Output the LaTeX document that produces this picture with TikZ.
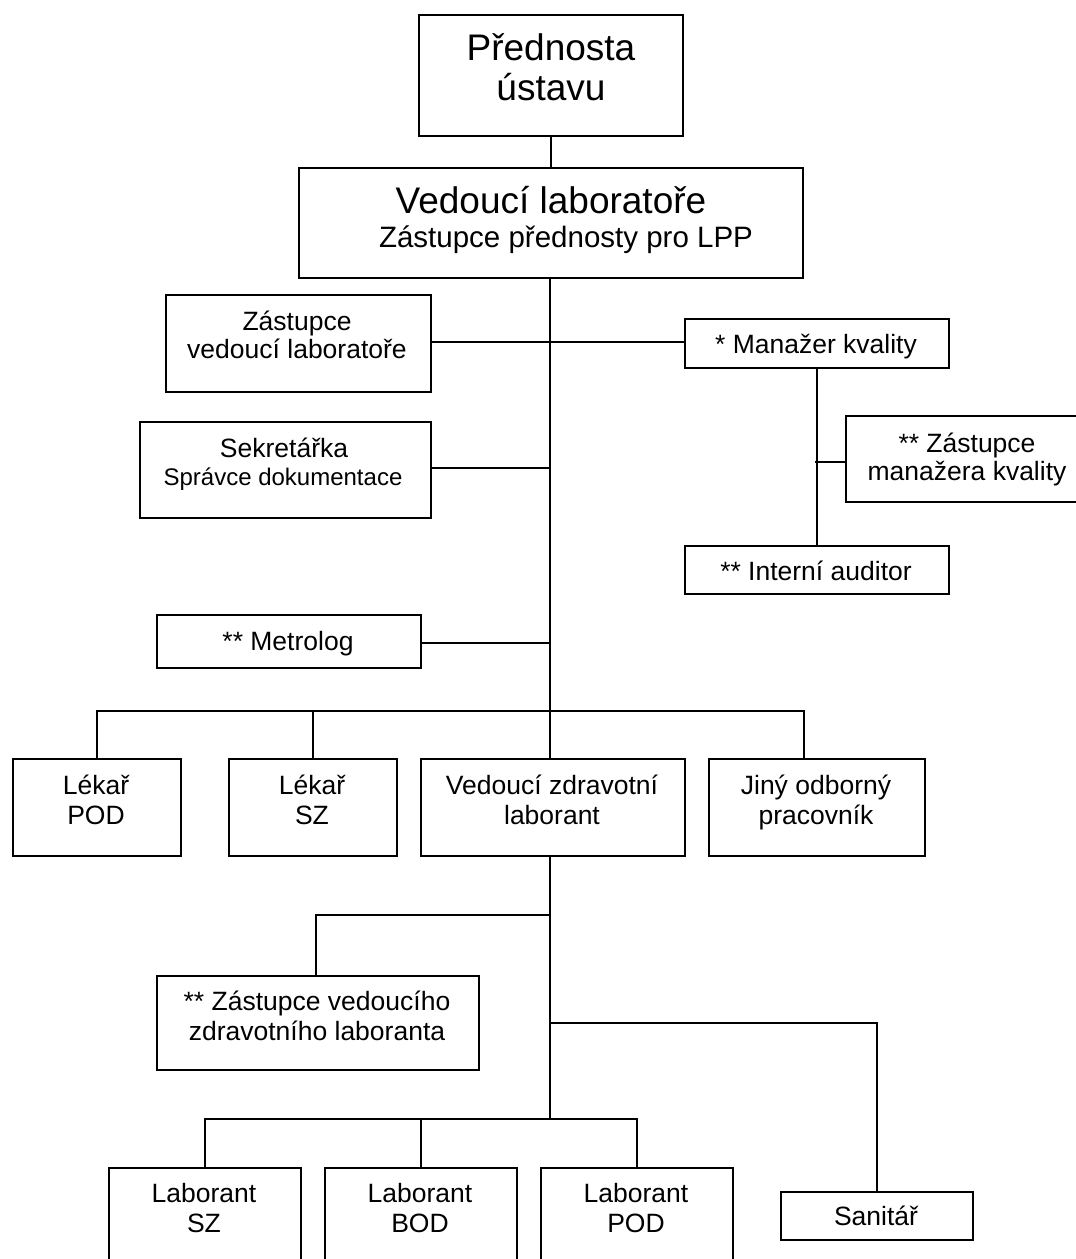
\documentclass[tikz,border=0pt]{standalone}
\usepackage{fontspec}
\setmainfont{Liberation Sans}
\begin{document}
\begin{tikzpicture}[x=1pt,y=-1pt,
  box/.style={draw=black,line width=1.8pt,rectangle,inner sep=0pt,anchor=north west},
  txt/.style={anchor=base,align=center,inner sep=0pt,font=\fontsize{26.5}{30}\selectfont},
  big/.style={anchor=base,align=center,inner sep=0pt,font=\fontsize{37}{40}\selectfont},
  conn/.style={line width=1.8pt,line cap=rect}]
\useasboundingbox (0,0) rectangle (1076,1259);
\clip (0,0) rectangle (1076,1259);
\fill[white] (0,0) rectangle (1076,1259);
% boxes
\node[box,minimum width=264pt,minimum height=121pt] (pred) at (418,14) {};
\node[box,minimum width=504pt,minimum height=110pt] (vedl) at (298,167) {};
\node[box,minimum width=265pt,minimum height=97pt] (zvl) at (165,294) {};
\node[box,minimum width=264pt,minimum height=49pt] (mk) at (684,318) {};
\node[box,minimum width=291pt,minimum height=96pt] (sek) at (139,421) {};
\node[box,minimum width=250pt,minimum height=86pt] (zmk) at (845,415) {};
\node[box,minimum width=264pt,minimum height=48pt] (ia) at (684,545) {};
\node[box,minimum width=264pt,minimum height=53pt] (met) at (156,614) {};
\node[box,minimum width=168pt,minimum height=97pt] (lpod) at (12,758) {};
\node[box,minimum width=168pt,minimum height=97pt] (lsz) at (228,758) {};
\node[box,minimum width=264pt,minimum height=97pt] (vzl) at (420,758) {};
\node[box,minimum width=216pt,minimum height=97pt] (jiny) at (708,758) {};
\node[box,minimum width=322pt,minimum height=94pt] (zvzl) at (156,975) {};
\node[box,minimum width=192pt,minimum height=48pt] (san) at (780,1191) {};
\node[box,minimum width=192pt,minimum height=120pt] (labsz) at (108,1167) {};
\node[box,minimum width=192pt,minimum height=120pt] (labbod) at (324,1167) {};
\node[box,minimum width=192pt,minimum height=120pt] (labpod) at (540,1167) {};
% texts (anchor base = baseline of the last line)
\node[big] (pred-t) at (551,100) {Přednosta\\ústavu};
\node[big] (vedl-t) at (551,213) {Vedoucí laboratoře};
\node[anchor=base,inner sep=0pt,font=\fontsize{29.5}{33}\selectfont] (vedl-t2) at (566,247) {Zástupce přednosty pro LPP};
\node[txt] (zvl-t) at (297,358) {Zástupce\\[-2pt]vedoucí laboratoře};
\node[txt] (mk-t) at (816,353) {* Manažer kvality};
\node[txt] (sek-t) at (284,457) {Sekretářka};
\node[anchor=base,inner sep=0pt,font=\fontsize{24}{28}\selectfont] (sek-t2) at (283,485) {Správce dokumentace};
\node[txt] (zmk-t) at (967,480) {** Zástupce\\[-2pt]manažera kvality};
\node[txt] (ia-t) at (816,580) {** Interní auditor};
\node[txt] (met-t) at (288,650) {** Metrolog};
\node[txt] (lpod-t) at (96,824) {Lékař\\POD};
\node[txt] (lsz-t) at (312,824) {Lékař\\SZ};
\node[txt] (vzl-t) at (552,824) {Vedoucí zdravotní\\laborant};
\node[txt] (jiny-t) at (816,824) {Jiný odborný\\pracovník};
\node[txt] (zvzl-t) at (317,1040) {** Zástupce vedoucího\\zdravotního laboranta};
\node[txt] (san-t) at (876,1225) {Sanitář};
\node[txt] (labsz-t) at (204,1232) {Laborant\\SZ};
\node[txt] (labbod-t) at (420,1232) {Laborant\\BOD};
\node[txt] (labpod-t) at (636,1232) {Laborant\\POD};
% junction coordinates
\coordinate (j1) at (550,342);
\coordinate (j2) at (550,468);
\coordinate (j3) at (550,643);
\coordinate (bus) at (550,711);
\coordinate (mkj) at (816,462);
\coordinate (j4) at (550,915);
\coordinate (j5) at (550,1023);
\coordinate (bus2) at (550,1119);
% connectors
\draw[conn] (pred.south) -- (pred.south |- vedl.north);
\draw[conn] (vedl.south -| bus) -- (bus) -- (vzl.north -| bus);
\draw[conn] (zvl.east |- j1) -- (mk.west |- j1);
\draw[conn] (sek.east |- j2) -- (j2);
\draw[conn] (met.east |- j3) -- (j3);
\draw[conn] (mk.south) -- (ia.north);
\draw[conn] (mkj) -- (zmk.west |- mkj);
\draw[conn] (lpod.north) -- (lpod.north |- bus) -- (bus);
\draw[conn] (lsz.north) -- (lsz.north |- bus);
\draw[conn] (bus) -- (804,711) -- (jiny.north -| 804,0);
\draw[conn] (vzl.south -| bus2) -- (bus2);
\draw[conn] (j4) -| (zvzl.north -| 316,0);
\draw[conn] (j5) -| (san.north);
\draw[conn] (labsz.north) -- (labsz.north |- bus2) -- (labpod.north |- bus2) -- (labpod.north);
\draw[conn] (labbod.north) -- (labbod.north |- bus2);
\end{tikzpicture}
\end{document}
